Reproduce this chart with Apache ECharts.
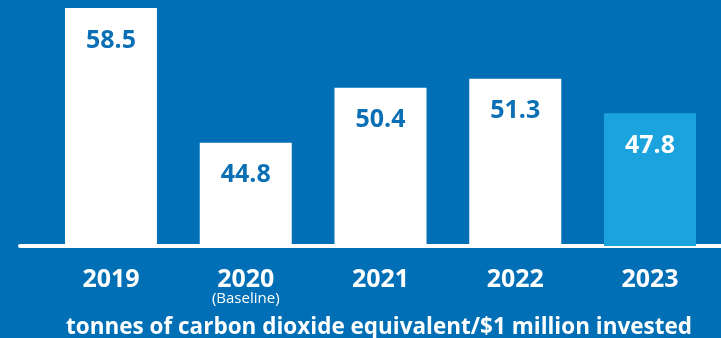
<!DOCTYPE html>
<html><head><meta charset="utf-8">
<script src="https://cdn.jsdelivr.net/npm/echarts@6/dist/echarts.min.js"></script>
<style>html,body{margin:0;padding:0;background:#006fb5;}#c{width:721px;height:338px;}</style>
</head><body><div id="c"></div>
<script>
const categories = ['2019', '2020', '2021', '2022', '2023'];
const subLabels = ['', '(Baseline)', '', '', ''];
const values = [58.5, 44.8, 50.4, 51.3, 47.8];
const titleText = 'tonnes of carbon dioxide equivalent/$1 million invested';

const BG = '#006fb5', WHITE = '#ffffff', HIGHLIGHT = '#1ba3de', DARK = '#0a6fb4';
const FONT = 'Open Sans';

const chart = echarts.init(document.getElementById('c'), null, {renderer: 'canvas'});
chart.setOption({
  backgroundColor: BG,
  animation: false,
  title: {
    text: titleText, left: 374, top: 311, textAlign: 'center',
    textStyle: {color: WHITE, fontFamily: FONT, fontWeight: 'bold', fontSize: 22.5}
  },
  grid: [
    {left: 43.6, right: 3.6, top: 0, bottom: 92},
    {left: 20, right: 0, top: 0, bottom: 92}
  ],
  xAxis: [
    {
      type: 'category', data: categories, gridIndex: 0,
      axisLine: {show: false}, axisTick: {show: false},
      axisLabel: {
        interval: 0, margin: 21, color: WHITE, fontFamily: FONT, fontWeight: 'bold', fontSize: 25, lineHeight: 25,
        formatter: (v, i) => subLabels[i] ? v + '\n{s|' + subLabels[i] + '}' : v,
        rich: {s: {fontSize: 15, fontWeight: 'normal', fontFamily: FONT, color: WHITE, lineHeight: 13}}
      }
    },
    {
      type: 'value', gridIndex: 1, min: 0, max: 1,
      axisLine: {show: true, lineStyle: {color: WHITE, width: 4}},
      axisTick: {show: false}, axisLabel: {show: false}, splitLine: {show: false}
    }
  ],
  yAxis: [
    {type: 'value', gridIndex: 0, min: 34.29, max: 59.32, show: false},
    {type: 'value', gridIndex: 1, show: false}
  ],
  series: [{
    type: 'bar', xAxisIndex: 0, yAxisIndex: 0, barWidth: 92,
    data: values.map((v, i) => ({
      value: v,
      itemStyle: {color: i === values.length - 1 ? HIGHLIGHT : WHITE},
      label: {color: i === values.length - 1 ? WHITE : DARK}
    })),
    label: {
      show: true, position: 'insideTop', distance: 20,
      fontFamily: FONT, fontWeight: 'bold', fontSize: 25, lineHeight: 25,
      formatter: p => p.value.toFixed(1)
    }
  }]
});
</script></body></html>
